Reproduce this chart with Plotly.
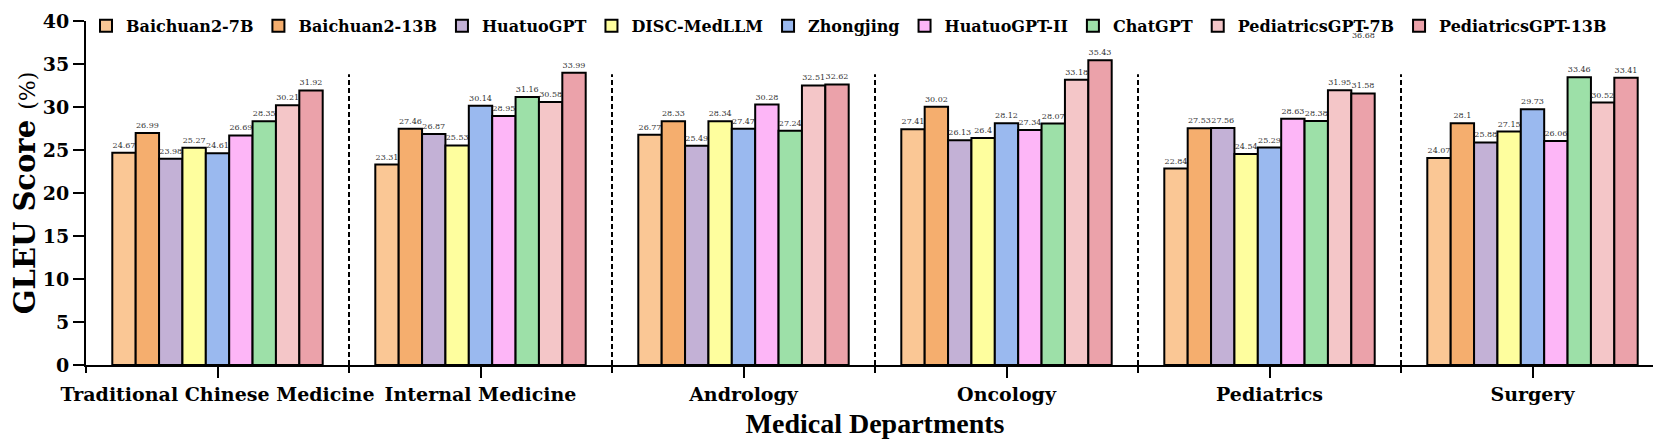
import plotly.graph_objects as go

departments = ["Traditional Chinese Medicine", "Internal Medicine", "Andrology",
               "Oncology", "Pediatrics", "Surgery"]
models = ["Baichuan2-7B", "Baichuan2-13B", "HuatuoGPT", "DISC-MedLLM", "Zhongjing",
          "HuatuoGPT-II", "ChatGPT", "PediatricsGPT-7B", "PediatricsGPT-13B"]
colors = ["#FAC795", "#F5AE6E", "#C3B1D6", "#FEFE9E", "#9AB9EF",
          "#FDB6F7", "#9DE0A8", "#F4C6C8", "#EBA2AA"]

baichuan2_7b = [24.67, 23.31, 26.77, 27.41, 22.84, 24.07]
baichuan2_13b = [26.99, 27.46, 28.33, 30.02, 27.53, 28.1]
huatuogpt = [23.98, 26.87, 25.49, 26.13, 27.56, 25.88]
disc_medllm = [25.27, 25.53, 28.34, 26.4, 24.54, 27.15]
zhongjing = [24.61, 30.14, 27.47, 28.12, 25.29, 29.73]
huatuogpt_ii = [26.69, 28.95, 30.28, 27.34, 28.63, 26.06]
chatgpt = [28.35, 31.16, 27.24, 28.07, 28.38, 33.46]
pediatricsgpt_7b = [30.21, 30.58, 32.51, 33.18, 31.95, 30.52]
pediatricsgpt_13b = [31.92, 33.99, 32.62, 35.43, 31.58, 33.41]

series = [baichuan2_7b, baichuan2_13b, huatuogpt, disc_medllm, zhongjing,
          huatuogpt_ii, chatgpt, pediatricsgpt_7b, pediatricsgpt_13b]

stray_label = "36.68"
stray_value = 36.68

SERIF = "DejaVu Serif"
xpos = list(range(len(departments)))

fig = go.Figure()
for name, vals, col in zip(models, series, colors):
    fig.add_trace(go.Bar(
        x=xpos, y=vals, name=name,
        marker=dict(color=col, line=dict(color="black", width=2)),
        text=[f"{v:g}" for v in vals], textposition="outside",
        textfont=dict(size=8, color="#333333", family=SERIF),
        constraintext="none", cliponaxis=False,
    ))

# dashed separators between departments
for i in range(len(departments) - 1):
    fig.add_shape(type="line", x0=i + 0.5, x1=i + 0.5, y0=0, y1=33.8,
                  xref="x", yref="y", line=dict(color="black", width=2, dash="5px,3px"))

# stray label near the legend (as in the original)
fig.add_annotation(x=4.356, y=stray_value + 1.6, text=stray_label, showarrow=False,
                   font=dict(size=8, color="#333333", family=SERIF))

fig.update_layout(
    width=1661, height=443,
    barmode="group", bargap=0.2, bargroupgap=0,
    plot_bgcolor="white", paper_bgcolor="white",
    margin=dict(l=78, r=5, t=13, b=86, autoexpand=False),
    font=dict(family=SERIF, color="black"),
    legend=dict(orientation="h", x=0.0, y=1.035, xanchor="left", yanchor="top",
                font=dict(size=16, family=SERIF, weight="bold"),
                bgcolor="rgba(0,0,0,0)", tracegroupgap=0, itemwidth=30),
    xaxis=dict(range=[-0.5, 5.5], tickvals=xpos, ticktext=departments,
               showline=True, linecolor="black", linewidth=2,
               ticks="outside", ticklen=11, tickwidth=2, tickcolor="black",
               minor=dict(tick0=0.5, dtick=1, ticks="outside", ticklen=6,
                          tickwidth=2, tickcolor="black"),
               tickfont=dict(size=19, family=SERIF, weight="bold"),
               showgrid=False, zeroline=False,
               title=dict(text="Medical Departments", standoff=10,
                          font=dict(size=28, family="Liberation Serif", weight="bold"))),
    yaxis=dict(range=[0, 40], dtick=5, showline=True, linecolor="black", linewidth=2,
               ticks="outside", ticklen=11, tickwidth=2, tickcolor="black",
               tickfont=dict(size=19, family=SERIF, weight="bold"),
               showgrid=False, zeroline=False,
               title=dict(text="GLEU Score <span style='font-size:22px;font-weight:normal'>(%)</span>",
                          standoff=10,
                          font=dict(size=29, family=SERIF, weight="bold"))),
)

fig.write_html("out.html")
